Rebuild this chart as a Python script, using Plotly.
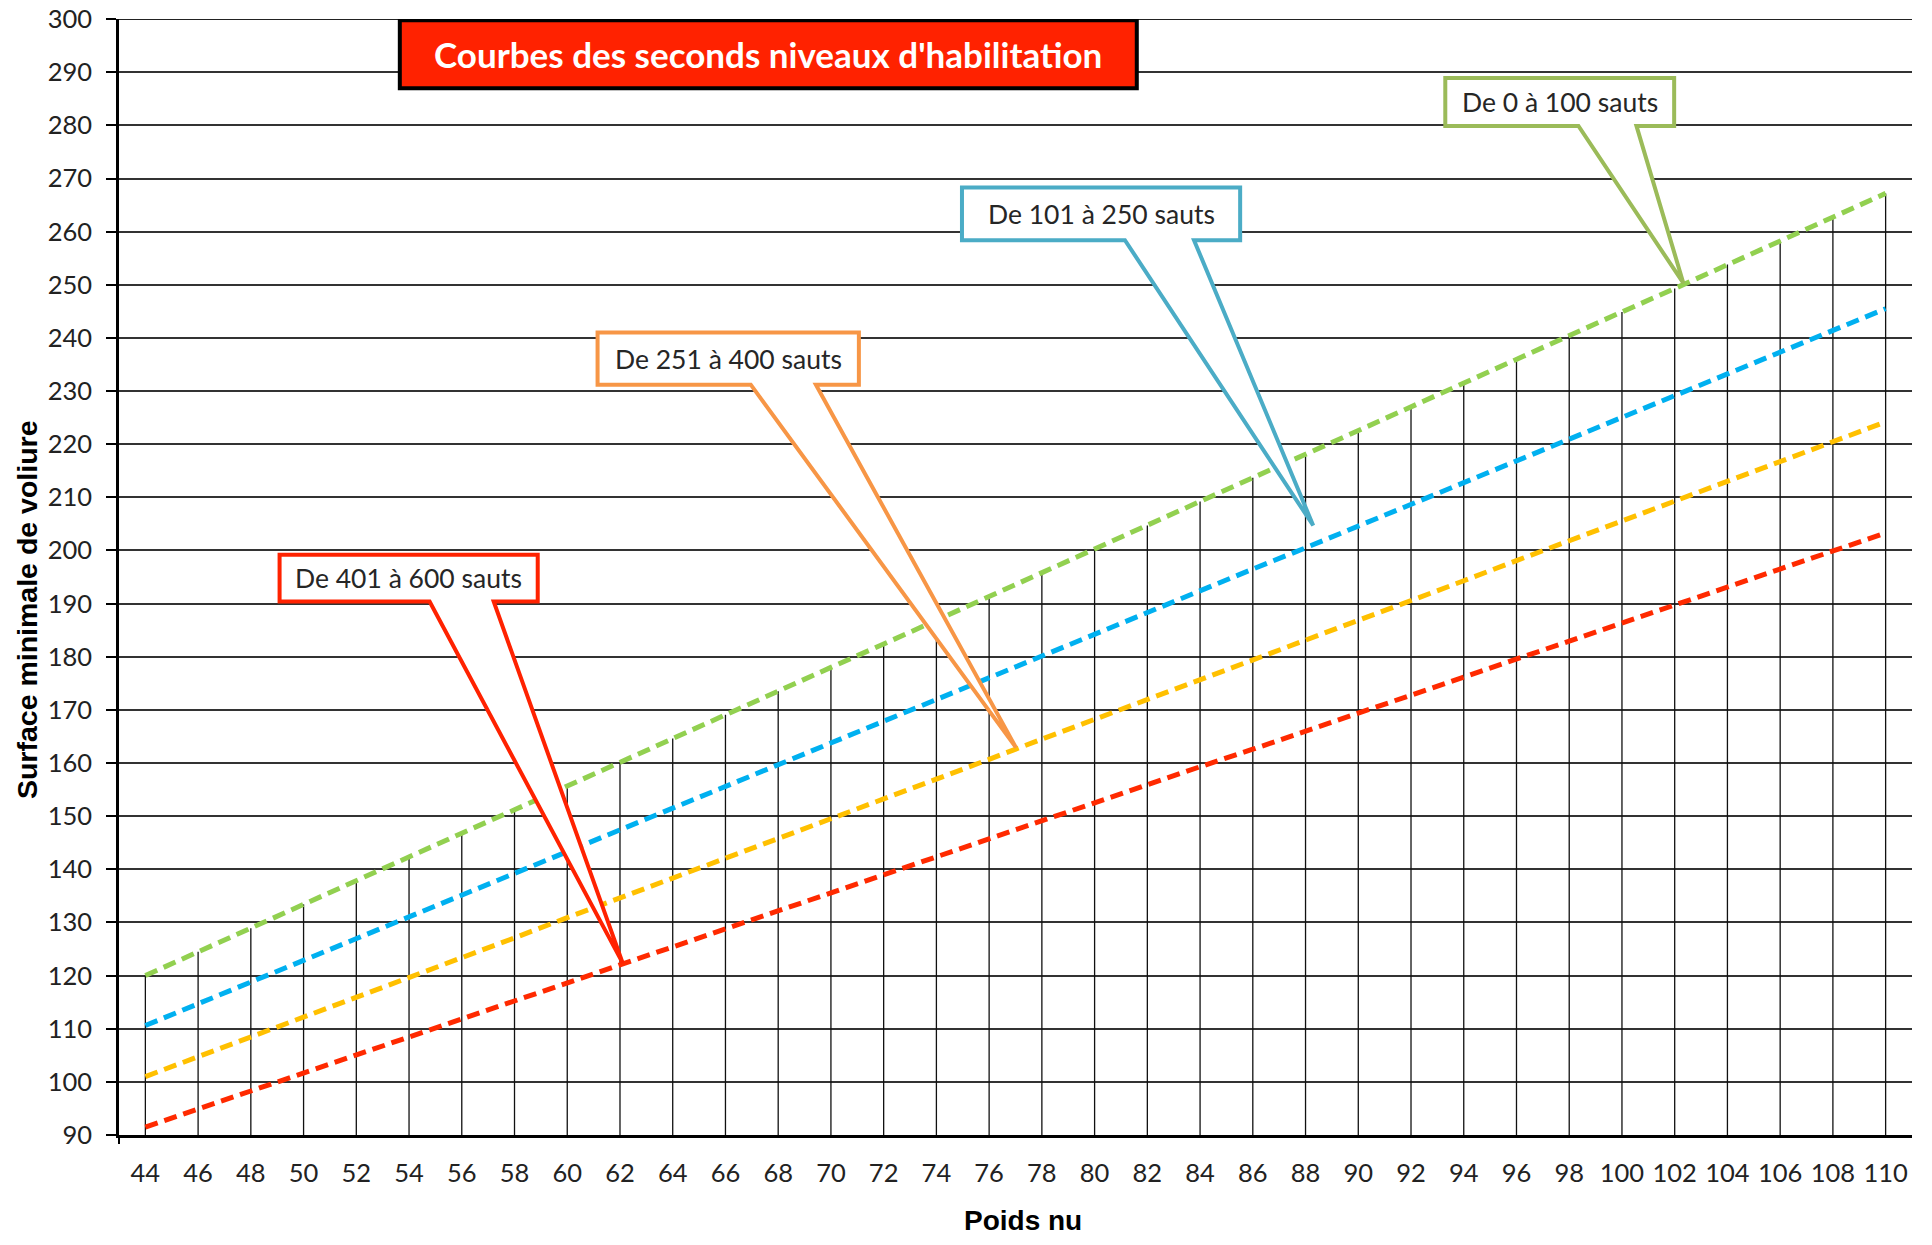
import plotly.graph_objects as go

# ---------------- data ----------------
poids = [44, 46, 48, 50, 52, 54, 56, 58, 60, 62, 64, 66, 68, 70, 72, 74, 76,
         78, 80, 82, 84, 86, 88, 90, 92, 94, 96, 98, 100, 102, 104, 106, 108, 110]

sauts_0_100 = [120.0, 124.5, 128.9, 133.4, 137.8, 142.3, 146.8, 151.2, 155.7, 160.1,
               164.6, 169.1, 173.5, 178.0, 182.4, 186.9, 191.4, 195.8, 200.3, 204.7,
               209.2, 213.7, 218.1, 222.6, 227.0, 231.5, 236.0, 240.4, 244.9, 249.3,
               253.8, 258.3, 262.7, 267.2]
sauts_101_250 = [110.6, 114.7, 118.8, 122.9, 126.9, 131.0, 135.1, 139.2, 143.3, 147.4,
                 151.5, 155.6, 159.7, 163.7, 167.8, 171.9, 176.0, 180.1, 184.2, 188.3,
                 192.4, 196.5, 200.5, 204.6, 208.7, 212.8, 216.9, 221.0, 225.1, 229.2,
                 233.3, 237.3, 241.4, 245.5]
sauts_251_400 = [101.0, 104.7, 108.5, 112.2, 115.9, 119.7, 123.4, 127.1, 130.9, 134.6,
                 138.3, 142.1, 145.8, 149.5, 153.3, 157.0, 160.7, 164.5, 168.2, 171.9,
                 175.7, 179.4, 183.1, 186.9, 190.6, 194.3, 198.1, 201.8, 205.5, 209.3,
                 213.0, 216.7, 220.5, 224.2]
sauts_401_600 = [91.5, 94.9, 98.3, 101.7, 105.1, 108.4, 111.8, 115.2, 118.6, 122.0,
                 125.4, 128.8, 132.2, 135.5, 138.9, 142.3, 145.7, 149.1, 152.5, 155.9,
                 159.3, 162.6, 166.0, 169.4, 172.8, 176.2, 179.6, 183.0, 186.4, 189.8,
                 193.1, 196.5, 199.9, 203.3]

y_ticks = list(range(90, 301, 10))

series_names = ["De 0 à 100 sauts", "De 101 à 250 sauts", "De 251 à 400 sauts", "De 401 à 600 sauts"]
series_values = [sauts_0_100, sauts_101_250, sauts_251_400, sauts_401_600]
series_colors = ["#92D050", "#00B0F0", "#FFC000", "#FF2A00"]
callout_colors = ["#9BBB59", "#4BACC6", "#F79646", "#FF2200"]

title_text = "Courbes des seconds niveaux d'habilitation"
x_title = "Poids nu"
y_title = "Surface minimale de voliure"

# ---------------- figure ----------------
fig = go.Figure()

# vertical drop lines from the axis up to the top curve
dx, dy = [], []
for xv, yv in zip(poids, sauts_0_100):
    dx += [xv, xv, None]
    dy += [90, yv, None]
fig.add_trace(go.Scatter(x=dx, y=dy, mode="lines", line=dict(color="#111111", width=1.3),
                         hoverinfo="skip", showlegend=False))

for name, vals, col in zip(series_names, series_values, series_colors):
    fig.add_trace(go.Scatter(x=poids, y=vals, mode="lines", name=name,
                             line=dict(color=col, width=5, dash="13px,7px"),
                             showlegend=False))

shapes = []
annotations = []

# top grid line (at the upper end of the range)
shapes.append(dict(type="line", xref="paper", yref="y", x0=0, x1=1, y0=y_ticks[-1], y1=y_ticks[-1],
                   line=dict(color="#222222", width=2), layer="below"))

# callouts: (box x0, x1, y_bottom, y_top, base_left, base_right, tip_x, tip_y)
callouts = [
    (93.30, 101.98, 279.9, 288.9, 98.35, 100.55, 102.33, 250.3),
    (74.97, 85.52, 258.4, 268.3, 81.15, 83.77, 88.29, 204.7),
    (61.15, 71.06, 231.2, 241.0, 66.96, 69.43, 77.02, 162.9),
    (49.09, 58.88, 190.4, 199.2, 54.78, 57.21, 62.10, 122.4),
]
for (x0, x1, yb, yt, bl, br, tx, ty), col, name in zip(callouts, callout_colors, series_names):
    path = (f"M {x0},{yt} L {x1},{yt} L {x1},{yb} L {br},{yb} L {tx},{ty} "
            f"L {bl},{yb} L {x0},{yb} Z")
    shapes.append(dict(type="path", path=path, xref="x", yref="y",
                       fillcolor="white", line=dict(color=col, width=4), layer="above"))
    annotations.append(dict(x=(x0 + x1) / 2, y=(yb + yt) / 2, xref="x", yref="y",
                            text=name, showarrow=False,
                            font=dict(family="Lato", size=26.5, color="#262626")))

# title box
shapes.append(dict(type="rect", xref="x", yref="y", x0=53.65, x1=81.6, y0=287.0, y1=299.8,
                   fillcolor="#FF2200", line=dict(color="black", width=4), layer="above"))
annotations.append(dict(x=(53.65 + 81.6) / 2, y=293.4, xref="x", yref="y",
                        text=f"<b>{title_text}</b>", showarrow=False,
                        font=dict(family="Lato", size=35, color="white")))

# small tick at axis corner
shapes.append(dict(type="line", xref="paper", yref="paper", x0=0, x1=0, y0=0, y1=-0.008,
                   line=dict(color="black", width=2)))

# axis titles
annotations.append(dict(x=-0.0513, y=0.4704, xref="paper", yref="paper", text=f"<b>{y_title}</b>",
                        textangle=-90, showarrow=False, xanchor="center", yanchor="middle",
                        font=dict(family="Liberation Sans", size=28.5, color="black")))
annotations.append(dict(x=0.5042, y=-0.0765, xref="paper", yref="paper", text=f"<b>{x_title}</b>",
                        showarrow=False, xanchor="center", yanchor="middle",
                        font=dict(family="Liberation Sans", size=28, color="black")))

# the page body adds an 8px margin, so the figure is sized to fit the window exactly
fig.update_layout(
    width=1916, height=1229,
    margin=dict(l=111, r=12, t=11, b=102),
    paper_bgcolor="white", plot_bgcolor="white",
    shapes=shapes, annotations=annotations,
    showlegend=False,
)
fig.update_xaxes(range=[43, 111], tickvals=poids, ticktext=[str(v) for v in poids],
                 showgrid=False, zeroline=False, showline=True, linecolor="black", linewidth=2.5,
                 ticks="", ticklabelstandoff=14, automargin=False,
                 tickfont=dict(family="Lato", size=25.5, color="#222222"))
fig.update_yaxes(range=[90, 300.02], tickvals=y_ticks, ticktext=[str(v) for v in y_ticks],
                 showgrid=True, gridcolor="#333333",
                 gridwidth=1.6, zeroline=False, showline=True, linecolor="black", linewidth=2.5,
                 ticks="outside", ticklen=10, tickcolor="black", tickwidth=1.5,
                 ticklabelstandoff=9, automargin=False, ticklabeloverflow="allow",
                 tickfont=dict(family="Lato", size=25.5, color="#222222"))

fig.write_html("out.html")
